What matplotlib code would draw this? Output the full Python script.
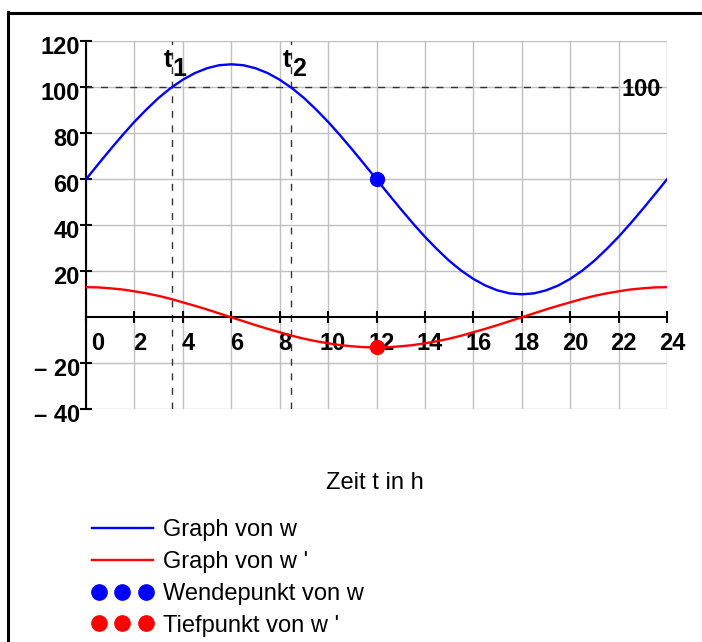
import numpy as np
import matplotlib
matplotlib.use('Agg')
import matplotlib.pyplot as plt
from matplotlib.lines import Line2D
from matplotlib.legend_handler import HandlerLine2D
from matplotlib.transforms import ScaledTranslation

plt.rcParams['font.family'] = 'Liberation Sans'

# time in hours, sampled every half hour
hours = np.linspace(0, 24, 49)

# w(t) and its derivative w'(t)
w_values = [60.0, 66.5, 72.9, 79.1, 85.0, 90.4, 95.4, 99.7, 103.3, 106.2, 108.3, 109.6, 110.0,
            109.6, 108.3, 106.2, 103.3, 99.7, 95.4, 90.4, 85.0, 79.1, 72.9, 66.5, 60.0,
            53.5, 47.1, 40.9, 35.0, 29.6, 24.6, 20.3, 16.7, 13.8, 11.7, 10.4, 10.0,
            10.4, 11.7, 13.8, 16.7, 20.3, 24.6, 29.6, 35.0, 40.9, 47.1, 53.5, 60.0]
dw_values = [13.1, 13.0, 12.6, 12.1, 11.3, 10.4, 9.3, 8.0, 6.5, 5.0, 3.4, 1.7, 0.0,
             -1.7, -3.4, -5.0, -6.5, -8.0, -9.3, -10.4, -11.3, -12.1, -12.6, -13.0, -13.1,
             -13.0, -12.6, -12.1, -11.3, -10.4, -9.3, -8.0, -6.5, -5.0, -3.4, -1.7, 0.0,
             1.7, 3.4, 5.0, 6.5, 8.0, 9.3, 10.4, 11.3, 12.1, 12.6, 13.0, 13.1]

# w(t) = 100 at t1 and t2
level = 100
t_cross = [3.54, 8.46]
t_names = ['1', '2']

inflection = (12, 60.0)
dw_minimum = (12, -13.1)

x_ticks = list(range(0, 25, 2))
y_ticks = [-40, -20, 20, 40, 60, 80, 100, 120]
y_tick_labels = ['\u2013 40', '\u2013 20', '20', '40', '60', '80', '100', '120']

fig = plt.figure(figsize=(7.02, 6.42), dpi=100)
ax = fig.add_axes([86 / 702, 1 - 409.3 / 642, 581 / 702, 368 / 642])
ax.set_xlim(0, 24)
ax.set_ylim(-40, 120)

ax.set_xticks(x_ticks)
ax.set_yticks(y_ticks)
ax.set_yticklabels(y_tick_labels)
ax.grid(True, color='#c0c0c0', linewidth=1)
ax.set_axisbelow(True)

for side in ['top', 'right']:
    ax.spines[side].set_visible(False)
ax.spines['bottom'].set_position(('data', 0))
ax.spines['left'].set_position(('data', 0))
for side in ['bottom', 'left']:
    ax.spines[side].set_linewidth(1.5)
    ax.spines[side].set_zorder(3)

ax.tick_params(direction='inout', length=9, width=1.5, labelsize=17)
ax.tick_params(axis='x', pad=6)
ax.tick_params(axis='y', pad=0)
for lab in ax.get_xticklabels() + ax.get_yticklabels():
    lab.set_fontweight('bold')

# shift tick labels a little to the right / down
for lab in ax.get_xticklabels():
    dx = 12 if lab.get_text() == '0' else 5
    lab.set_transform(lab.get_transform() + ScaledTranslation(dx / 100, 0, fig.dpi_scale_trans))
for lab in ax.get_yticklabels():
    lab.set_transform(lab.get_transform() + ScaledTranslation(0, -4 / 100, fig.dpi_scale_trans))

# helper lines
ax.plot([0, 24], [level, level], color='#333333', lw=1, dashes=(5, 5.5), zorder=2)
for tc in t_cross:
    ax.plot([tc, tc], [-40, 120], color='#333333', lw=1, dashes=(5, 5.5), zorder=2)
ax.text(22.93, 99, '100', ha='center', va='center', fontsize=17, fontweight='bold', zorder=4)

for tc, name in zip(t_cross, t_names):
    off_t = ScaledTranslation(0.5 / 100, -25.5 / 100, fig.dpi_scale_trans)
    off_n = ScaledTranslation(1 / 100, -35 / 100, fig.dpi_scale_trans)
    ax.text(tc, 120, 't', ha='right', va='baseline', fontsize=18, fontweight='bold',
            transform=ax.transData + off_t)
    ax.text(tc, 120, name, ha='left', va='baseline', fontsize=18, fontweight='bold',
            transform=ax.transData + off_n)

ax.plot(hours, w_values, color='blue', lw=1.7, zorder=5)
ax.plot(hours, dw_values, color='red', lw=1.7, zorder=5)
ax.plot(*inflection, 'o', color='blue', ms=10, zorder=6)
ax.plot(*dw_minimum, 'o', color='red', ms=10, zorder=6)

fig.text(375 / 702, 1 - 483 / 642, 'Zeit t in h', ha='center', va='center', fontsize=17)

line_w = Line2D([], [], color='blue', lw=1.7)
line_dw = Line2D([], [], color='red', lw=1.7)
dots_w = Line2D([], [], ls='none', marker='o', color='blue', ms=11)
dots_dw = Line2D([], [], ls='none', marker='o', color='red', ms=11)
handles = [line_w, line_dw, dots_w, dots_dw]
labels = ['Graph von w', "Graph von w '", 'Wendepunkt von w', "Tiefpunkt von w '"]
fig.legend(handles, labels, loc='upper left', bbox_to_anchor=(92 / 702, 1 - 519 / 642),
           frameon=False, fontsize=17, numpoints=3, handlelength=2.58, handletextpad=0.42,
           labelspacing=0.42, borderpad=0, borderaxespad=0,
           handler_map={line_w: HandlerLine2D(numpoints=1), line_dw: HandlerLine2D(numpoints=1)})

# frame lines on the left and top
fig.add_artist(Line2D([8 / 702, 8 / 702], [0, 1 - 12 / 642], color='black', lw=2.2))
fig.add_artist(Line2D([8 / 702, 1], [1 - 13 / 642, 1 - 13 / 642], color='black', lw=2.2))

fig.savefig('out.png', dpi=100)
